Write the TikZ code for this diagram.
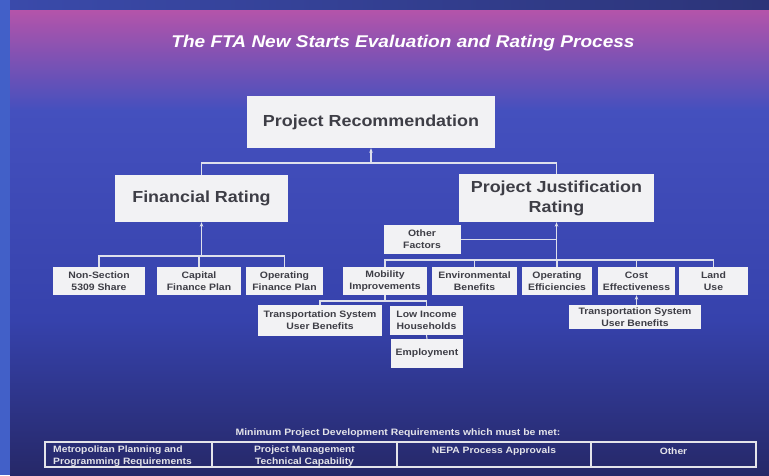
\documentclass[tikz,border=0pt]{standalone}
\usepackage{fontspec}
\setmainfont[FakeStretch=1.12]{Liberation Sans}
\usetikzlibrary{arrows.meta}

\definecolor{bgMagenta}{RGB}{180,84,170}
\definecolor{bgViolet}{RGB}{68,80,190}
\definecolor{bgMid}{RGB}{54,66,172}
\definecolor{bgNavy}{RGB}{38,40,104}
\definecolor{edgeBlue}{RGB}{66,96,200}
\definecolor{topStripL}{RGB}{58,74,170}
\definecolor{topStripR}{RGB}{44,52,120}
\definecolor{boxFill}{RGB}{242,242,244}
\definecolor{boxText}{RGB}{62,62,70}
\definecolor{wire}{RGB}{222,224,236}
\definecolor{paleText}{RGB}{228,228,234}

\begin{document}
\begin{tikzpicture}[x=1pt,y=-1pt,
  bigbox/.style={fill=boxFill,text=boxText,font=\fontsize{16}{20}\selectfont\bfseries,align=center,inner sep=0pt},
  leaf/.style={fill=boxFill,text=boxText,font=\fontsize{9.3}{12}\selectfont\bfseries,align=center,inner sep=0pt},
  wirestyle/.style={draw=wire,line width=1.1pt},
  uptip/.style={-{Stealth[length=4.5pt,width=3.5pt]}},
  cell/.style={draw=paleText,line width=1.3pt,minimum height=25pt,inner sep=0pt},
  celltext/.style={text=paleText,font=\fontsize{9.2}{11.5}\selectfont\bfseries,inner sep=0pt,align=center}
]
\useasboundingbox (0,0) rectangle (769,475);

% slide background
\fill[edgeBlue] (0,0) rectangle (769,475);
\shade[left color=topStripL,right color=topStripR] (10,0) rectangle (769,10.5);
\shade[top color=bgMagenta,bottom color=bgViolet] (10,10) rectangle (769,111);
\shade[top color=bgViolet,bottom color=bgMid] (10,110) rectangle (769,321);
\shade[top color=bgMid,bottom color=bgNavy] (10,320) rectangle (769,475);

% title
\node[text=white,font=\fontsize{17}{20}\selectfont\bfseries\itshape] (title) at (403,43)
  {The FTA New Starts Evaluation and Rating Process};

% main boxes
\node[bigbox,minimum width=248pt,minimum height=52pt] (pr) at (371,122) {Project Recommendation};
\node[bigbox,minimum width=173pt,minimum height=47pt] (fr) at (201.5,198.5) {Financial Rating};
\node[bigbox,minimum width=195pt,minimum height=48pt] (pjr) at (556.5,198) {Project Justification\\Rating};
\node[leaf,minimum width=77pt,minimum height=29pt] (of) at (422,239.5) {Other\\Factors};

% rating factors
\node[leaf,minimum width=92pt,minimum height=28pt] (ns) at (99,281) {Non-Section\\5309 Share};
\node[leaf,minimum width=84pt,minimum height=28pt] (cfp) at (199,281) {Capital\\Finance Plan};
\node[leaf,minimum width=77pt,minimum height=28pt] (ofp) at (284.5,281) {Operating\\Finance Plan};
\node[leaf,minimum width=84pt,minimum height=28pt] (mob) at (385,281) {Mobility\\Improvements};
\node[leaf,minimum width=85pt,minimum height=28pt] (env) at (474.5,281) {Environmental\\Benefits};
\node[leaf,minimum width=70pt,minimum height=28pt] (opeff) at (557,281) {Operating\\Efficiencies};
\node[leaf,minimum width=77pt,minimum height=28pt] (cost) at (636.5,281) {Cost\\Effectiveness};
\node[leaf,minimum width=69pt,minimum height=28pt] (land) at (713.5,281) {Land\\Use};

% measures
\node[leaf,minimum width=124pt,minimum height=31pt] (tsub) at (320,320.5) {Transportation System\\User Benefits};
\node[leaf,minimum width=73pt,minimum height=29pt] (lih) at (426.5,320.5) {Low Income\\Households};
\node[leaf,minimum width=72pt,minimum height=29pt] (emp) at (427,353.5) {Employment};
\node[leaf,minimum width=132pt,minimum height=24pt] (tsubc) at (635,317) {Transportation System\\User Benefits};

% bus levels
\coordinate (prbus) at (0,163);
\coordinate (fbus) at (0,256);
\coordinate (pbus) at (0,260);
\coordinate (mbus) at (0,301);

% recommendation level
\draw[wirestyle,uptip] (pr.south |- prbus) -- (pr.south);
\draw[wirestyle] (fr.north) -- (fr.north |- prbus) -- (pjr.north |- prbus) -- (pjr.north);

% financial rating
\draw[wirestyle,uptip] (fr.south |- fbus) -- (fr.south);
\draw[wirestyle] (ns.north) -- (ns.north |- fbus) -- (ofp.north |- fbus) -- (ofp.north);
\draw[wirestyle] (cfp.north) -- (cfp.north |- fbus);

% project justification rating
\draw[wirestyle,uptip] (pjr.south |- pbus) -- (pjr.south);
\draw[wirestyle] (mob.north) -- (mob.north |- pbus) -- (land.north |- pbus) -- (land.north);
\draw[wirestyle] (env.north) -- (env.north |- pbus);
\draw[wirestyle] (opeff.north) -- (opeff.north |- pbus);
\draw[wirestyle] (cost.north) -- (cost.north |- pbus);
\draw[wirestyle] (of.east) -- (of.east -| pjr.south);

% mobility measures
\draw[wirestyle] (mob.south) -- (mob.south |- mbus);
\draw[wirestyle] (tsub.north) -- (tsub.north |- mbus) -- (lih.north |- mbus) -- (lih.north);
\draw[wirestyle] (lih.south) -- (emp.north);

% cost effectiveness measure
\draw[wirestyle,uptip] (tsubc.north -| cost.south) -- (cost.south);

% minimum requirements
\node[text=paleText,font=\fontsize{9.3}{11}\selectfont\bfseries] (req) at (398,433)
  {Minimum Project Development Requirements which must be met:};
\node[cell,minimum width=167pt] (c1) at (128.5,454.5) {};
\node[cell,minimum width=185pt] (c2) at (304.5,454.5) {};
\node[cell,minimum width=194pt] (c3) at (494,454.5) {};
\node[cell,minimum width=165pt] (c4) at (673.5,454.5) {};
\node[celltext,align=left,anchor=west] (t1) at (53,456) {Metropolitan Planning and\\Programming Requirements};
\node[celltext] (t2) at (304.5,456) {Project Management\\Technical Capability};
\node[celltext] (t3) at (494,451.5) {NEPA Process Approvals};
\node[celltext] (t4) at (673.5,451.5) {Other};
\end{tikzpicture}
\end{document}
